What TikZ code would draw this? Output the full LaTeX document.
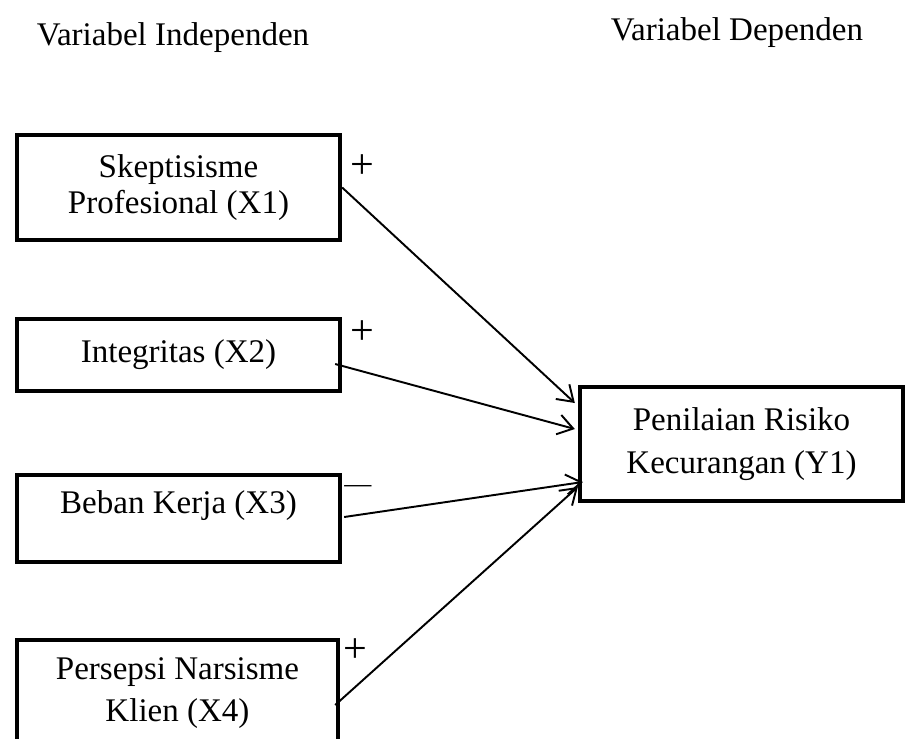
\documentclass[tikz,border=0pt]{standalone}
\usepackage{fontspec}
\setmainfont{Liberation Serif}
\usepackage{tikz}
\usetikzlibrary{arrows.meta}
\newcommand{\vfont}{\fontsize{18.8}{21}\selectfont}
\newcommand{\sgnfont}{\fontsize{24}{26}\selectfont}
\newcommand{\minfont}{\fontsize{15.4}{18}\selectfont}

\begin{document}
\begin{tikzpicture}[x=0.02cm,y=-0.02cm,
  varbox/.style={draw, line width=2.5pt, align=center, font=\vfont, inner sep=0pt, minimum width=6.46cm},
  panah/.style={-{Straight Barb[length=0.3cm,width=0.4cm]}, line width=1.1pt},
  tanda/.style={font=\sgnfont, inner sep=0pt}]
\useasboundingbox (0,0) rectangle (905,738);
%\draw[help lines, color=gray!30, dashed] (0,0) grid[step=50] (905,738);
\node[font=\vfont, anchor=base] (judulx) at (173,45) {Variabel Independen};
\node[font=\vfont, anchor=base] (juduly) at (737,40) {Variabel Dependen};
% kotak variabel
\node[varbox, minimum height=2.1cm] (x1) at (178.5,187.5) {Skeptisisme\\Profesional (X1)};
\node[varbox, minimum height=1.44cm] (x2) at (178.5,355) {Integritas (X2)};
\node[varbox, minimum height=1.74cm, text depth=0.66cm] (x3) at (178.5,518.5) {Beban Kerja (X3)};
\node[varbox, minimum width=6.42cm, minimum height=2.12cm] (x4) at (177.5,693) {Persepsi Narsisme\\[0.1cm]Klien (X4)};
\node[varbox, minimum height=2.28cm] (y1) at (741.5,444) {Penilaian Risiko\\[0.12cm]Kecurangan (Y1)};
% tanda pengaruh
\node[tanda] (s1) at (362,167) {+};
\node[tanda] (s2) at (362,333) {+};
\node[tanda, font=\minfont] (s3) at (358,489) {—};
\node[tanda] (s4) at (355,651) {+};
% panah
\draw[panah] (x1.east) -- ([xshift=-0.06cm,yshift=0.82cm]y1.west);
\draw[panah] ([xshift=-0.14cm,yshift=-0.18cm]x2.east) -- ([xshift=-0.06cm,yshift=0.3cm]y1.west);
\draw[panah] ([xshift=0.04cm,yshift=0.03cm]x3.east) -- ([xshift=0.1cm,yshift=-0.76cm]y1.west);
\draw[panah] ([xshift=-0.1cm,yshift=-0.24cm]x4.east) -- ([yshift=-0.86cm]y1.west);
\end{tikzpicture}
\end{document}
